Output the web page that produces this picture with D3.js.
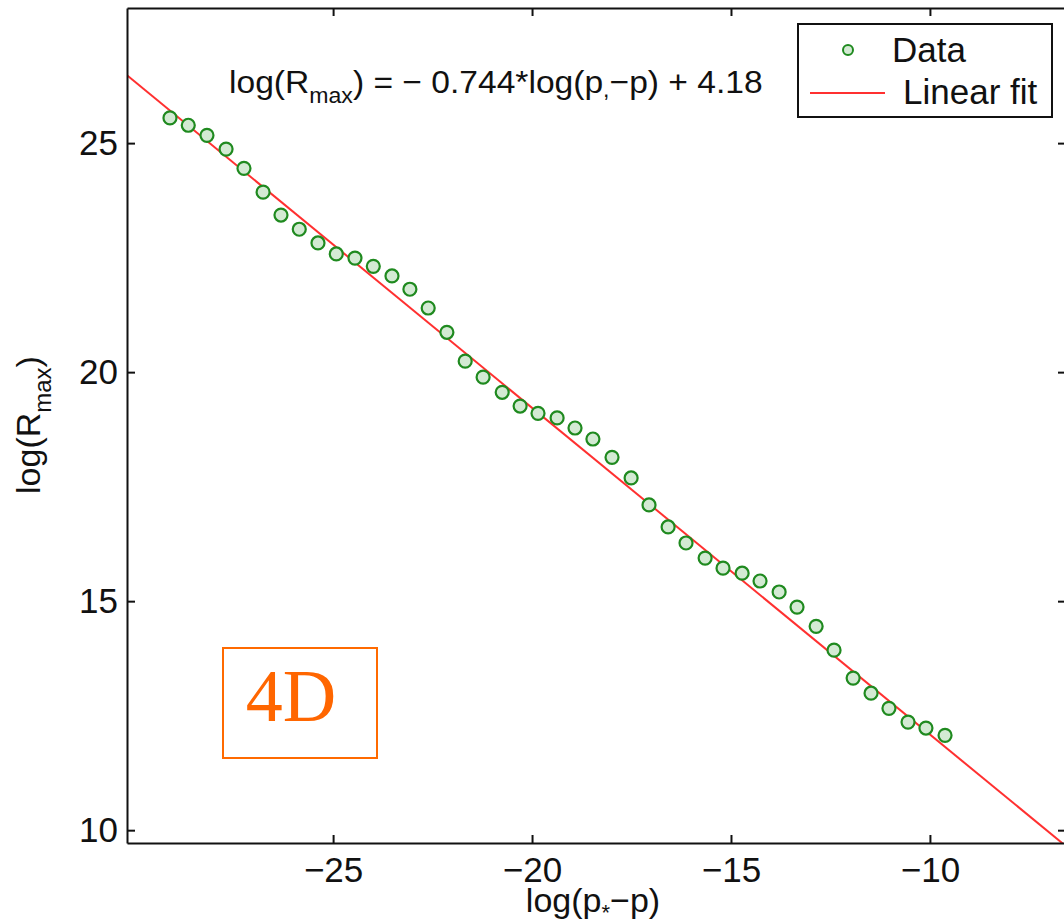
<!DOCTYPE html>
<html>
<head>
<meta charset="utf-8">
<script src="https://cdn.jsdelivr.net/npm/d3@7"></script>
<style>
  body { margin: 0; background: #fff; }
  svg text { font-family: "Liberation Sans", Arial, sans-serif; fill: #111; }
</style>
</head>
<body>
<div id="chart"></div>
<script>
'use strict';

// data: log(p*-p) vs log(Rmax)
const dataX = [-29.10, -28.64, -28.17, -27.69, -27.24, -26.76, -26.31, -25.85, -25.38, -24.92,
               -24.45, -23.99, -23.52, -23.07, -22.61, -22.14, -21.68, -21.23, -20.75, -20.30,
               -19.85, -19.37, -18.92, -18.47, -17.99, -17.51, -17.06, -16.58, -16.13, -15.65,
               -15.20, -14.72, -14.27, -13.79, -13.34, -12.86, -12.41, -11.93, -11.48, -11.03,
               -10.55, -10.10, -9.62];
const dataY = [25.55, 25.39, 25.17, 24.87, 24.45, 23.93, 23.43, 23.12, 22.82, 22.58,
               22.49, 22.31, 22.10, 21.81, 21.40, 20.87, 20.24, 19.89, 19.56, 19.26,
               19.10, 19.00, 18.78, 18.54, 18.14, 17.69, 17.10, 16.62, 16.27, 15.94,
               15.72, 15.61, 15.44, 15.20, 14.87, 14.45, 13.93, 13.32, 12.99, 12.66,
               12.36, 12.23, 12.07];

// fitted line, end points as drawn
const fitX = [-30.18, -6.58];
const fitY = [26.48, 9.65];

const xTicks = [-25, -20, -15, -10];
const yTicks = [10, 15, 20, 25];
const legendLabels = ['Data', 'Linear fit'];

const width  = 1064;
const height = 919;
const plotLeft = 127, plotRight = 1066, plotTop = 8, plotBottom = 843;

const x = d3.scaleLinear().domain([-30.18, -6.58]).range([plotLeft, plotRight]);
const y = d3.scaleLinear().domain([9.72, 27.95]).range([plotBottom, plotTop]);

const svg = d3.select('#chart').append('svg')
    .attr('width', width)
    .attr('height', height);

svg.append('rect').attr('width', width).attr('height', height).attr('fill', '#fff');

svg.append('clipPath').attr('id', 'plotClip')
  .append('rect')
    .attr('x', plotLeft).attr('y', plotTop)
    .attr('width', plotRight - plotLeft).attr('height', plotBottom - plotTop);

const plot = svg.append('g').attr('clip-path', 'url(#plotClip)');

// fit line
const line = d3.line().x(d => x(d[0])).y(d => y(d[1]));
plot.append('path')
    .datum(d3.zip(fitX, fitY))
    .attr('d', line)
    .attr('fill', 'none')
    .attr('stroke', '#ff3030')
    .attr('stroke-width', 2);

// data circles
plot.selectAll('circle.pt')
    .data(d3.zip(dataX, dataY))
    .enter()
    .append('circle')
    .attr('class', 'pt')
    .attr('cx', d => x(d[0]))
    .attr('cy', d => y(d[1]))
    .attr('r', 6.5)
    .attr('fill', '#d3ead3')
    .attr('stroke', '#1f8a1f')
    .attr('stroke-width', 2.2);

// axes, ticks pointing inward
const fmt = d3.format('');
const styleAxis = function(g) {
    g.selectAll('path.domain').attr('stroke', '#111').attr('stroke-width', 2).attr('fill', 'none');
    g.selectAll('.tick line').attr('stroke', '#111').attr('stroke-width', 2);
    g.selectAll('.tick text')
        .style('font-size', '35px')
        .attr('fill', '#111');
};

svg.append('g')
    .attr('transform', `translate(0,${plotBottom})`)
    .call(d3.axisBottom(x).tickValues(xTicks).tickFormat(fmt).tickSizeInner(-8).tickSizeOuter(0).tickPadding(14))
    .call(styleAxis);

svg.append('g')
    .attr('transform', `translate(0,${plotTop})`)
    .call(d3.axisTop(x).tickValues(xTicks).tickFormat('').tickSizeInner(-8).tickSizeOuter(0))
    .call(styleAxis);

svg.append('g')
    .attr('transform', `translate(${plotLeft},0)`)
    .call(d3.axisLeft(y).tickValues(yTicks).tickFormat(fmt).tickSizeInner(-8).tickSizeOuter(0).tickPadding(9))
    .call(styleAxis);

svg.append('g')
    .attr('transform', `translate(${plotRight},0)`)
    .call(d3.axisRight(y).tickValues(yTicks).tickFormat('').tickSizeInner(-8).tickSizeOuter(0))
    .call(styleAxis);

// axis labels
const xl = svg.append('text')
    .attr('x', 593).attr('y', 912)
    .attr('text-anchor', 'middle')
    .style('font-size', '34px');
xl.append('tspan').text('log(p');
xl.append('tspan').attr('dy', 8).style('font-size', '22px').text('*');
xl.append('tspan').attr('dy', -8).text('\u2212p)');

const yl = svg.append('text')
    .attr('transform', 'translate(40,425) rotate(-90)')
    .attr('text-anchor', 'middle')
    .style('font-size', '34px');
yl.append('tspan').text('log(R');
yl.append('tspan').attr('dy', 11).style('font-size', '24px').text('max');
yl.append('tspan').attr('dy', -11).text(')');

// fit equation
const eq = svg.append('text')
    .attr('transform', 'translate(229,93) scale(1.05,1)')
    .style('font-size', '32px');
eq.append('tspan').text('log(R');
eq.append('tspan').attr('dy', 10).style('font-size', '22px').text('max');
eq.append('tspan').attr('dy', -10).text(') = \u2212 0.744*log(p');
eq.append('tspan').attr('dy', 4).style('font-size', '22px').text(',');
eq.append('tspan').attr('dy', -4).text('\u2212p) + 4.18');

// 4D label box
svg.append('rect')
    .attr('x', 223).attr('y', 648)
    .attr('width', 154).attr('height', 110)
    .attr('fill', 'none')
    .attr('stroke', '#ff6a00')
    .attr('stroke-width', 2);
svg.append('text')
    .attr('x', 291).attr('y', 721)
    .attr('text-anchor', 'middle')
    .style('font-family', '"Liberation Serif", "Times New Roman", serif')
    .style('font-size', '74px')
    .style('fill', '#ff6600')
    .text('4D');

// legend
const lg = svg.append('g');
lg.append('rect')
    .attr('x', 798).attr('y', 24)
    .attr('width', 254).attr('height', 93)
    .attr('fill', '#fff')
    .attr('stroke', '#111')
    .attr('stroke-width', 2);
lg.append('circle')
    .attr('cx', 848).attr('cy', 50).attr('r', 5)
    .attr('fill', '#d3ead3').attr('stroke', '#1f8a1f').attr('stroke-width', 2);
lg.append('line')
    .attr('x1', 810).attr('x2', 885).attr('y1', 93).attr('y2', 93)
    .attr('stroke', '#ff3030').attr('stroke-width', 2);
lg.selectAll('text.leg')
    .data(legendLabels)
    .enter()
    .append('text')
    .attr('class', 'leg')
    .attr('x', (d, i) => i === 0 ? 892 : 903)
    .attr('y', (d, i) => i === 0 ? 62 : 104)
    .style('font-size', '35px')
    .text(d => d);
</script>
</body>
</html>
